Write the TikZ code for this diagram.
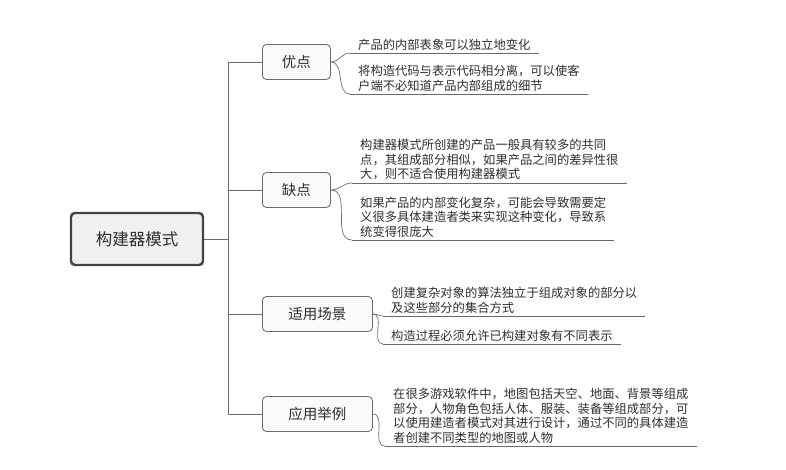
\documentclass[tikz,border=0pt]{standalone}
\usepackage{fontspec}
\setmainfont{Noto Sans CJK SC}
\usetikzlibrary{positioning}
\definecolor{inkgray}{HTML}{2E2E2E}
\definecolor{linegray}{HTML}{6A6A6A}

\begin{document}
\begin{tikzpicture}[x=1pt, y=-1pt, inner sep=0pt,
                    every node/.style={text=inkgray},
                    root node/.style={draw=inkgray!90, line width=2.4pt, rounded corners=4pt, fill=black!6,
                                      minimum width=132pt, minimum height=52pt, font=\fontsize{16.5}{18}\selectfont},
                    branch node/.style={draw=linegray, line width=0.8pt, rounded corners=4pt, fill=black!2,
                                        minimum height=35pt, anchor=west, font=\fontsize{14.5}{16}\selectfont},
                    leaf node/.style={anchor=south west, align=left, inner xsep=8pt, inner ysep=2.5pt,
                                      font=\fontsize{12.3}{14.5}\selectfont},
                    link/.style={draw=linegray, line width=0.7pt}]

  \useasboundingbox (0,0) rectangle (786,470);

  \node[root node] (0) at (137,239) {构建器模式};

  \node[branch node, minimum width=68pt] (1) at (262,62) {优点};
  \node[branch node, minimum width=68pt] (2) at (262,190) {缺点};
  \node[branch node, minimum width=110pt] (3) at (262,314) {适用场景};
  \node[branch node, minimum width=110pt] (4) at (262,414) {应用举例};

  \node[leaf node] (11) at (350,53) {产品的内部表象可以独立地变化};
  \node[leaf node] (12) at (350,94) {将构造代码与表示代码相分离，可以使客\\户端不必知道产品内部组成的细节};
  \node[leaf node] (21) at (352,183) {构建器模式所创建的产品一般具有较多的共同\\点，其组成部分相似，如果产品之间的差异性很\\大，则不适合使用构建器模式};
  \node[leaf node] (22) at (352,240) {如果产品的内部变化复杂，可能会导致需要定\\义很多具体建造者类来实现这种变化，导致系\\统变得很庞大};
  \node[leaf node] (31) at (383,316) {创建复杂对象的算法独立于组成对象的部分以\\及这些部分的集合方式};
  \node[leaf node] (32) at (383,344) {构造过程必须允许已构建对象有不同表示};
  \node[leaf node] (41) at (385,446) {在很多游戏软件中，地图包括天空、地面、背景等组成\\部分，人物角色包括人体、服装、装备等组成部分，可\\以使用建造者模式对其进行设计，通过不同的具体建造\\者创建不同类型的地图或人物};

  % trunk
  \foreach \b in {1,...,4}
    \draw[link] (0.east) -- ++(24,0) |- (\b.west);

  % underlines
  \foreach \n in {11,12,21,22,31,32,41}
    \draw[link] (\n.south west) -- (\n.south east);

  \path[link]
    (1) edge [out=0, in=180] (11.south west)
    (1) edge [out=0, in=180] (12.south west)
    (2) edge [out=0, in=180] (21.south west)
    (2) edge [out=0, in=180] (22.south west)
    (3) edge [out=0, in=180] (31.south west)
    (3) edge [out=0, in=180] (32.south west)
    (4) edge [out=0, in=180] (41.south west);
\end{tikzpicture}
\end{document}
